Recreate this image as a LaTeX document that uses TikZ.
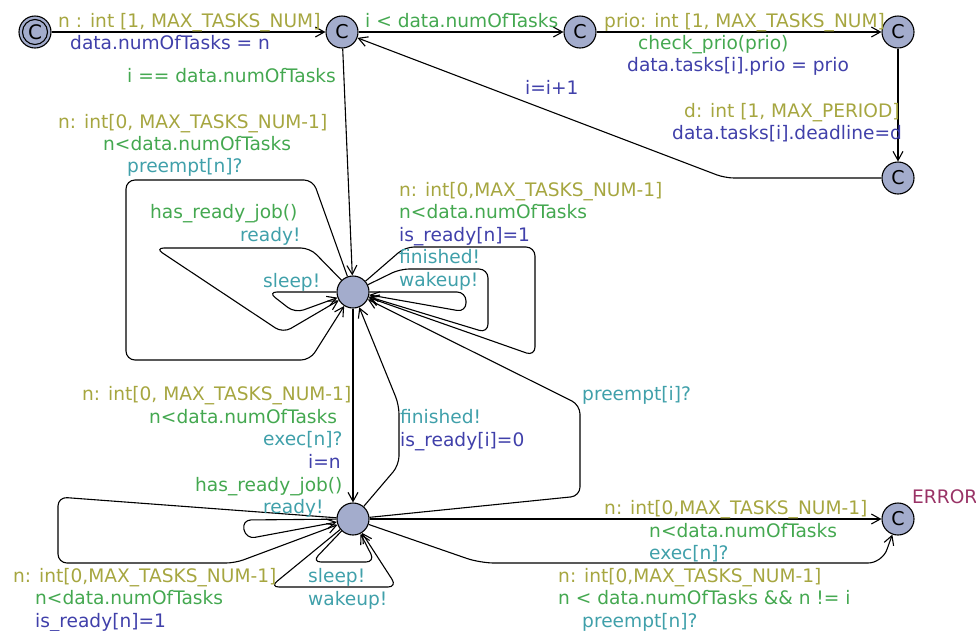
\documentclass[tikz,border=0pt]{standalone}
\usepackage{fontspec}
\setmainfont{DejaVu Sans}
\usetikzlibrary{arrows.meta}
\definecolor{selc}{RGB}{166,166,64}
\definecolor{grdc}{RGB}{68,168,80}
\definecolor{sync}{RGB}{64,160,170}
\definecolor{updc}{RGB}{64,64,170}
\definecolor{namec}{RGB}{153,51,102}
\definecolor{locfill}{RGB}{163,172,204}
\begin{document}
\begin{tikzpicture}[x=1pt,y=-1pt,
  loc/.style={circle,draw,fill=locfill,line width=1.1pt,minimum size=32pt,inner sep=0pt,font=\fontsize{19}{19}\selectfont},
  edge/.style={line width=1.1pt,-{Straight Barb[length=9pt,width=10pt]},rounded corners=9pt},
  lbl/.style={anchor=base west,inner sep=0pt,font=\fontsize{18.6}{22}\selectfont},
  sel/.style={lbl,text=selc},
  grd/.style={lbl,text=grdc},
  syn/.style={lbl,text=sync},
  upd/.style={lbl,text=updc}]
\useasboundingbox (0,0) rectangle (976,630);

% locations
\node[loc,font=\fontsize{20}{20}\selectfont] (I) at (35,32) {C};
\draw[line width=1.1pt] (I.center) circle[radius=12.5pt];
\node[loc] (A) at (342,32) {C};
\node[loc] (B) at (580,32) {C};
\node[loc] (Cn) at (898,32) {C};
\node[loc] (D) at (898,178) {C};
\node[loc] (S) at (353,292) {};
\node[loc] (T) at (353,519) {};
\node[loc] (E) at (898,519) {C};
\node[lbl,text=namec] (en) at (912,503) {ERROR};

% top chain
\draw[edge] (I) -- (A);
\draw[edge] (A) -- (B);
\draw[edge] (B) -- (Cn);
\draw[edge] (Cn) -- (D);
\draw[edge] (D) -- (725,178) -- (A);
\draw[edge] (A) -- (S);

\node[sel] (l1) at (58,27) {n : int [1, MAX\_TASKS\_NUM]};
\node[upd] (l2) at (70,49) {data.numOfTasks = n};
\node[grd] (l3) at (127,82) {i == data.numOfTasks};
\node[grd] (l4) at (365,27) {i < data.numOfTasks};
\node[sel] (l5) at (604,27) {prio: int [1, MAX\_TASKS\_NUM]};
\node[grd] (l6) at (638,49) {check\_prio(prio)};
\node[upd] (l7) at (627,71) {data.tasks[i].prio = prio};
\node[upd] (l8) at (525,94) {i=i+1};
\node[sel] (l9) at (684,117) {d: int [1, MAX\_PERIOD]};
\node[upd] (l10) at (672,139) {data.tasks[i].deadline=d};

% loops on S, left
\draw[edge] (S) -- (313,180) -- (126,180) -- (126,360) -- (310,360) -- (S);
\draw[edge] (S) -- (310,248) -- (155,248) -- (283,333) -- (S);
\draw[edge] (S) -- (268,292) -- (295,313) -- (S);
\node[sel] (l11) at (58,128) {n: int[0, MAX\_TASKS\_NUM-1]};
\node[grd] (l12) at (103,150) {n<data.numOfTasks};
\node[syn] (l13) at (127,172) {preempt[n]?};
\node[grd] (l14) at (150,218) {has\_ready\_job()};
\node[syn] (l15) at (240,241) {ready!};
\node[syn] (l16) at (263,287) {sleep!};

% loops on S, right
\draw[edge] (S) -- (405,247) -- (535,247) -- (535,356) -- (S);
\draw[edge] (S) -- (400,269) -- (488,269) -- (488,333) -- (S);
\draw[edge] (S) -- (466,292) -- (466,312) -- (S);
\node[sel] (l17) at (399,196) {n: int[0,MAX\_TASKS\_NUM-1]};
\node[grd] (l18) at (399,218) {n<data.numOfTasks};
\node[upd] (l19) at (399,241) {is\_ready[n]=1};
\node[syn] (l20) at (399,263) {finished!};
\node[syn] (l21) at (399,286) {wakeup!};

% S <-> T
\draw[edge] (S) -- (T);
\draw[edge] (T) -- (399,465) -- (399,405) -- (S);
\draw[edge] (T) -- (580,496) -- (580,405) -- (S);
\node[sel] (l22) at (82,400) {n: int[0, MAX\_TASKS\_NUM-1]};
\node[grd] (l23) at (149,423) {n<data.numOfTasks};
\node[syn] (l24) at (263,445) {exec[n]?};
\node[upd] (l25) at (308,468) {i=n};
\node[syn] (l26) at (400,423) {finished!};
\node[upd] (l27) at (400,446) {is\_ready[i]=0};
\node[syn] (l28) at (582,400) {preempt[i]?};

% loops on T
\draw[edge] (T) -- (58,497) -- (58,563) -- (235,563) -- (T);
\draw[edge] (T) -- (242,520) -- (246,539) -- (T);
\draw[edge] (T) -- (312,562) -- (375,562) -- (T);
\draw[edge] (T) -- (270,587) -- (397,587) -- (T);
\node[grd] (l29) at (195,491) {has\_ready\_job()};
\node[syn] (l30) at (263,513) {ready!};
\node[syn] (l31) at (308,582) {sleep!};
\node[syn] (l32) at (308,605) {wakeup!};
\node[sel] (l33) at (13,582) {n: int[0,MAX\_TASKS\_NUM-1]};
\node[grd] (l34) at (35,604) {n<data.numOfTasks};
\node[upd] (l35) at (35,627) {is\_ready[n]=1};

% T -> ERROR
\draw[edge] (T) -- (E);
\draw[edge,rounded corners=14pt] (T) -- (480,563) -- (882,563) -- (E);
\node[sel] (l36) at (604,514) {n: int[0,MAX\_TASKS\_NUM-1]};
\node[grd] (l37) at (649,537) {n<data.numOfTasks};
\node[syn] (l38) at (649,559) {exec[n]?};
\node[sel] (l39) at (558,582) {n: int[0,MAX\_TASKS\_NUM-1]};
\node[grd] (l40) at (558,604) {n < data.numOfTasks \&\& n != i};
\node[syn] (l41) at (582,627) {preempt[n]?};
\end{tikzpicture}
\end{document}
